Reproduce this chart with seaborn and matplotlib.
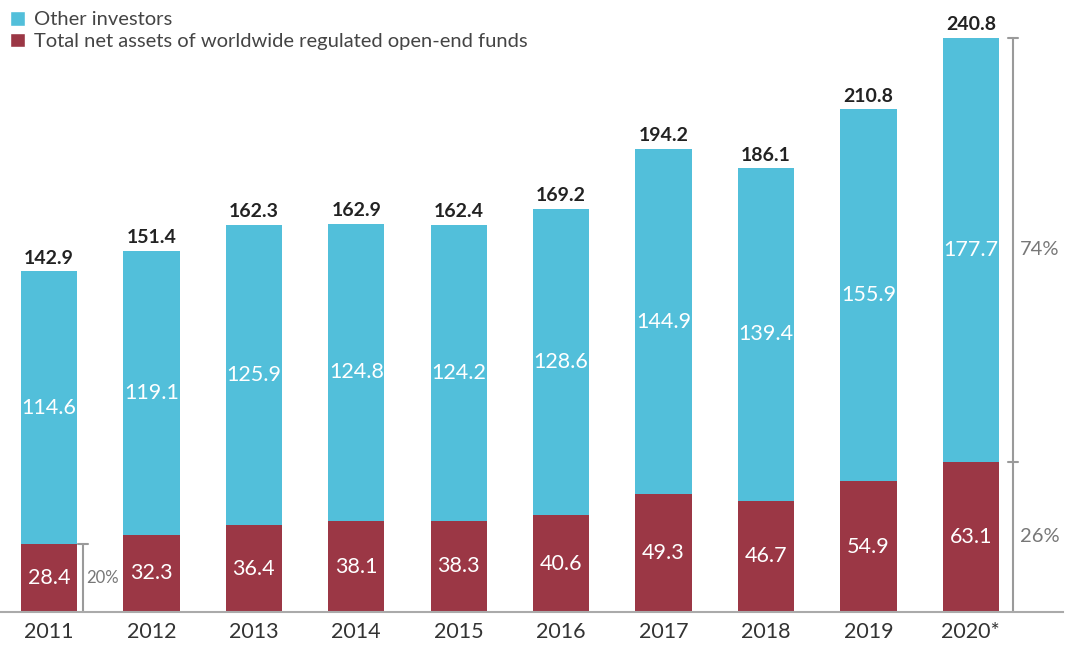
import matplotlib
matplotlib.use("Agg")
import matplotlib.pyplot as plt
import seaborn as sns
import pandas as pd
from matplotlib.patches import Patch

years = ["2011", "2012", "2013", "2014", "2015", "2016", "2017", "2018", "2019", "2020*"]
funds = [28.4, 32.3, 36.4, 38.1, 38.3, 40.6, 49.3, 46.7, 54.9, 63.1]
others = [114.6, 119.1, 125.9, 124.8, 124.2, 128.6, 144.9, 139.4, 155.9, 177.7]
totals = [142.9, 151.4, 162.3, 162.9, 162.4, 169.2, 194.2, 186.1, 210.8, 240.8]

BLUE = "#52BFDA"
RED = "#9B3745"
GRAY = "#9a9a9a"

sns.set_theme(style="white")
plt.rcParams["font.family"] = ["Lato", "DejaVu Sans"]

df = pd.DataFrame({"year": years, "funds": funds, "others": others})
df["stack"] = df["funds"] + df["others"]

fig = plt.figure(figsize=(10.75, 6.5), dpi=100)
ax = fig.add_axes([0.0, 38 / 650, 1063 / 1075, 1 - 38 / 650])

bw = 0.55
sns.barplot(data=df, x="year", y="stack", color=BLUE, width=bw, saturation=1,
            linewidth=0, ax=ax)
sns.barplot(data=df, x="year", y="funds", color=RED, width=bw, saturation=1,
            linewidth=0, ax=ax)

ax.set_xlim(-0.478, 9.90)
ax.set_ylim(0, 256.7)

for i in range(len(years)):
    ax.text(i, funds[i] / 2, f"{funds[i]:.1f}", ha="center", va="center",
            color="white", fontsize=15.5)
    ax.text(i, funds[i] + others[i] / 2, f"{others[i]:.1f}", ha="center",
            va="center", color="white", fontsize=15.5)
    ax.text(i, totals[i] + 2.0, f"{totals[i]:.1f}", ha="center", va="bottom",
            color="#222222", fontsize=14, fontweight="bold")

# share brackets
cap = 0.05
x0 = 0.335
ax.plot([x0, x0], [0, funds[0]], color=GRAY, lw=1.5, clip_on=False)
ax.plot([x0 - cap, x0 + cap], [funds[0], funds[0]], color=GRAY, lw=1.5)
ax.text(x0 + 0.03, funds[0] / 2, "20%", ha="left", va="center",
        color="#777777", fontsize=12)

x9 = 9.41
ax.plot([x9, x9], [0, totals[9]], color=GRAY, lw=1.5, clip_on=False)
for yv in (funds[9], totals[9]):
    ax.plot([x9 - cap, x9 + cap], [yv, yv], color=GRAY, lw=1.5)
ax.text(x9 + 0.07, funds[9] / 2, "26%", ha="left", va="center",
        color="#777777", fontsize=14.5)
ax.text(x9 + 0.07, funds[9] + others[9] / 2, "74%", ha="left", va="center",
        color="#777777", fontsize=14.5)

sns.despine(ax=ax, left=True, top=True, right=True)
ax.spines["bottom"].set_color("#aaaaaa")
ax.spines["bottom"].set_linewidth(1.5)
ax.set_yticks([])
ax.set_xlabel("")
ax.set_ylabel("")
ax.tick_params(axis="x", length=0, labelsize=15.5, labelcolor="#333333", pad=7)

handles = [Patch(facecolor=BLUE, label="Other investors"),
           Patch(facecolor=RED, label="Total net assets of worldwide regulated open-end funds")]
fig.legend(handles=handles, loc="upper left", bbox_to_anchor=(-0.004, 1.005),
           frameon=False, fontsize=14.5, handlelength=0.75, handleheight=0.75,
           handletextpad=0.45, labelspacing=0.22, borderaxespad=0.3,
           labelcolor="#444444")

fig.savefig("out.png", dpi=100)
